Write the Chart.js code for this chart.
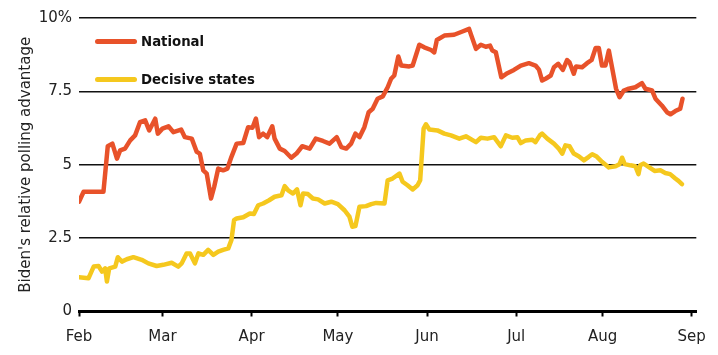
<!DOCTYPE html>
<html>
<head>
<meta charset="utf-8">
<script src="https://cdn.jsdelivr.net/npm/chart.js@4/dist/chart.umd.min.js"></script>
<style>
  html, body { margin: 0; padding: 0; background: #fff; }
  #wrap { position: relative; width: 718px; height: 355px; }
  canvas { display: block; }
  .leg { position: absolute; font-family: "DejaVu Sans", sans-serif; font-weight: bold; font-size: 13.3px; color: #111; display: flex; align-items: center; }
  .leg span.sw { display: inline-block; width: 42px; height: 5px; border-radius: 3px; margin-right: 4px; }
</style>
</head>
<body>
<div id="wrap">
  <canvas id="c" width="718" height="355"></canvas>
  <div class="leg" style="left:95px; top:34px;"><span class="sw" style="background:#E8522A"></span>National</div>
  <div class="leg" style="left:95px; top:72px;"><span class="sw" style="background:#F5C81E"></span>Decisive states</div>
</div>
<script>
// x = days since 1 Feb
const monthLabels = ["Feb", "Mar", "Apr", "May", "Jun", "Jul", "Aug", "Sep"];
const monthDays = [0, 29, 60, 90, 121, 152, 182, 213];
const yTickValues = [0, 2.5, 5, 7.5, 10];
const yTickLabels = ["0", "2.5", "5", "7.5", "10%"];

const nationalDays = [0, 1.6, 8.5, 10, 11.6, 13.2, 14.3, 16, 17.8, 19.5, 21.2, 23, 24.4, 26.5, 27.4, 29, 31.1, 32.8, 35.5, 36.8, 39.2, 40.9, 42, 43.2, 44.4, 45.9, 47, 48.4, 50.1, 51.6, 53, 54.8, 57.1, 58.8, 60.3, 61.5, 62.6, 64, 65.4, 67.2, 68, 69.8, 71.5, 73.8, 75.6, 77.6, 80.2, 82.3, 84.8, 87.1, 89.6, 91.2, 92.9, 94.6, 96.1, 97.5, 99.2, 100.7, 102.1, 103.8, 105.6, 107.3, 108.5, 109.6, 111, 112, 114.8, 116, 118.3, 120, 122.4, 123.5, 124.4, 127, 130.4, 133.3, 135.6, 136.4, 138, 139.7, 141.4, 142.9, 143.7, 144.9, 146.8, 148.9, 151.2, 153.6, 156.4, 158.7, 159.9, 161, 162.2, 164, 165.1, 166.6, 168.2, 169.7, 170.5, 172, 172.8, 174.9, 176.6, 178.2, 179.6, 180.7, 181.8, 183, 184.2, 185.3, 186.7, 187.9, 189.4, 191.1, 193.4, 195.7, 196.9, 199.2, 200.4, 202.6, 204.4, 205.6, 207.3, 209, 209.8];
const nationalValues = [3.74, 4.08, 4.08, 5.63, 5.72, 5.21, 5.49, 5.55, 5.83, 6.0, 6.45, 6.51, 6.17, 6.57, 6.06, 6.23, 6.31, 6.11, 6.2, 5.94, 5.89, 5.44, 5.38, 4.81, 4.7, 3.85, 4.25, 4.87, 4.81, 4.87, 5.27, 5.72, 5.74, 6.28, 6.26, 6.57, 5.94, 6.06, 5.94, 6.31, 5.89, 5.55, 5.47, 5.24, 5.38, 5.63, 5.55, 5.89, 5.81, 5.72, 5.94, 5.6, 5.55, 5.72, 6.06, 5.94, 6.28, 6.79, 6.91, 7.25, 7.33, 7.64, 7.93, 8.04, 8.69, 8.38, 8.35, 8.38, 9.09, 9.0, 8.91, 8.83, 9.25, 9.4, 9.43, 9.54, 9.63, 9.4, 8.95, 9.09, 9.02, 9.06, 8.89, 8.83, 7.98, 8.12, 8.23, 8.38, 8.46, 8.38, 8.24, 7.87, 7.93, 8.04, 8.32, 8.44, 8.23, 8.57, 8.49, 8.1, 8.35, 8.32, 8.46, 8.57, 8.98, 8.98, 8.38, 8.38, 8.89, 8.32, 7.59, 7.3, 7.53, 7.59, 7.64, 7.78, 7.59, 7.53, 7.25, 7.02, 6.79, 6.72, 6.83, 6.91, 7.25];

const statesDays = [0, 3.3, 5.1, 6.8, 8, 9.1, 9.7, 10.5, 12.6, 13.5, 14.9, 16.6, 18.9, 21.8, 24.1, 27, 29.3, 32.2, 34.5, 35.7, 37.4, 38.6, 40.3, 41.5, 43.2, 44.9, 46.7, 48.4, 50.1, 51.9, 53, 53.9, 54.8, 57.1, 59.4, 60.8, 62.3, 64, 66.1, 68, 70.4, 71.5, 72.7, 74.4, 75.8, 77, 77.9, 79.6, 81.3, 83.1, 85.4, 87.7, 90, 92.3, 94, 95, 96.1, 97.5, 99.8, 101.6, 103.3, 106.2, 107.3, 109, 111.4, 112.5, 114.2, 116, 117.7, 118.6, 119.8, 120.6, 121.8, 124.6, 127, 129.3, 132.2, 134.5, 138, 139.7, 142, 144.3, 146.6, 148.4, 150.6, 152.4, 153.6, 155.3, 157.6, 158.7, 160.2, 161, 162.8, 165.1, 166.8, 168, 169.1, 170.5, 172, 173.7, 175.5, 177.2, 178.4, 179.8, 181.8, 184.2, 186.5, 187.9, 188.8, 189.7, 191.7, 193.4, 194.5, 195.1, 196.3, 198, 200.1, 202.1, 203.8, 205.5, 207.3, 208.4, 209.6];
const statesValues = [1.17, 1.13, 1.53, 1.55, 1.36, 1.47, 1.02, 1.47, 1.53, 1.85, 1.7, 1.78, 1.85, 1.76, 1.64, 1.55, 1.59, 1.66, 1.53, 1.64, 1.98, 1.98, 1.64, 1.98, 1.93, 2.1, 1.93, 2.04, 2.1, 2.15, 2.44, 3.11, 3.17, 3.21, 3.34, 3.32, 3.62, 3.68, 3.79, 3.91, 3.96, 4.27, 4.13, 4.02, 4.16, 3.62, 4.02, 4.0, 3.85, 3.82, 3.68, 3.74, 3.66, 3.45, 3.23, 2.89, 2.91, 3.57, 3.59, 3.66, 3.7, 3.68, 4.47, 4.53, 4.7, 4.42, 4.3, 4.16, 4.3, 4.47, 6.23, 6.38, 6.2, 6.17, 6.06, 6.0, 5.89, 5.97, 5.77, 5.92, 5.89, 5.94, 5.63, 6.0, 5.92, 5.94, 5.74, 5.83, 5.85, 5.77, 6.0, 6.06, 5.89, 5.72, 5.55, 5.38, 5.66, 5.63, 5.38, 5.29, 5.15, 5.27, 5.36, 5.29, 5.1, 4.91, 4.95, 5.02, 5.24, 5.02, 4.98, 4.95, 4.68, 4.98, 5.04, 4.93, 4.79, 4.81, 4.72, 4.68, 4.53, 4.45, 4.34];

const toXY = (xs, ys) => xs.map((x, i) => ({ x: x, y: ys[i] }));

const fontFam = "'DejaVu Sans', sans-serif";

new Chart(document.getElementById('c'), {
  type: 'line',
  data: {
    datasets: [
      { label: 'National', data: toXY(nationalDays, nationalValues), borderColor: '#E8522A', borderWidth: 4.5, pointRadius: 0, tension: 0, borderJoinStyle: 'round', borderCapStyle: 'round' },
      { label: 'Decisive states', data: toXY(statesDays, statesValues), borderColor: '#F5C81E', borderWidth: 4.5, pointRadius: 0, tension: 0, borderJoinStyle: 'round', borderCapStyle: 'round' }
    ]
  },
  options: {
    responsive: false,
    animation: false,
    layout: { padding: { top: 18, right: 20, left: 17, bottom: 4 } },
    plugins: { legend: { display: false }, tooltip: { enabled: false } },
    scales: {
      x: {
        type: 'linear',
        min: 0,
        max: 214.6,
        afterBuildTicks: (axis) => { axis.ticks = monthDays.map(v => ({ value: v })); },
        afterFit: (scale) => { scale.height = 39.5; },
        ticks: {
          autoSkip: false,
          maxRotation: 0,
          padding: 12,
          color: '#222',
          font: { family: fontFam, size: 15 },
          callback: (v) => monthLabels[monthDays.indexOf(v)]
        },
        grid: { drawOnChartArea: false, drawTicks: true, tickLength: 5, tickWidth: 2, tickColor: '#000' },
        border: { display: true, color: '#000', width: 3 }
      },
      y: {
        min: 0,
        max: 10,
        afterBuildTicks: (axis) => { axis.ticks = yTickValues.map(v => ({ value: v })); },
        afterFit: (scale) => { scale.width = 62; },
        ticks: {
          padding: 7,
          color: '#222',
          font: { family: fontFam, size: 15 },
          callback: (v) => yTickLabels[yTickValues.indexOf(v)]
        },
        grid: { color: '#111', lineWidth: 1.6, drawTicks: false },
        border: { display: false },
        title: { display: true, text: "Biden's relative polling advantage", color: '#222', font: { family: fontFam, size: 15 }, padding: { top: 0, bottom: 0 } }
      }
    }
  }
});
</script>
</body>
</html>
